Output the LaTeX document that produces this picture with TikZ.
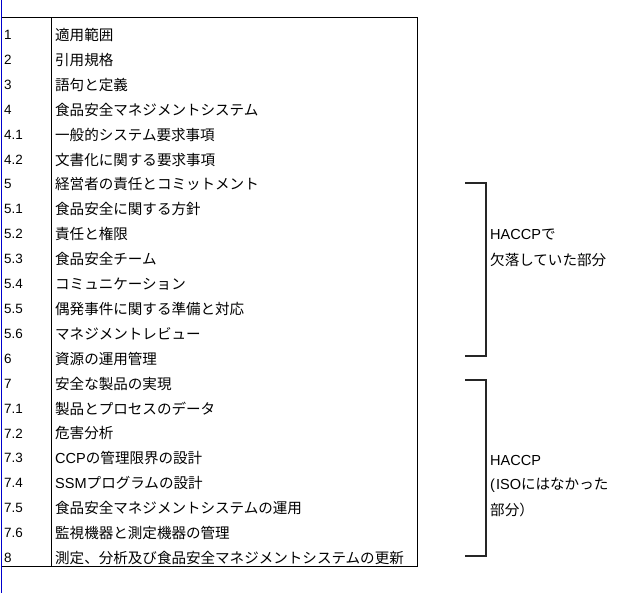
\documentclass[tikz,border=0pt]{standalone}
\usepackage{fontspec}
\setmainfont{Liberation Sans}
\newfontfamily\jp{Noto Sans CJK JP}
\definecolor{cursorblue}{RGB}{0,0,204}
\begin{document}
\begin{tikzpicture}[x=1bp,y=-1bp,
  numcell/.style={anchor=west,inner sep=0pt,font=\fontsize{13.5}{15}\selectfont},
  itemcell/.style={anchor=west,inner sep=0pt,font=\fontsize{14.6}{16}\selectfont\jp},
  note/.style={anchor=west,inner sep=0pt,font=\fontsize{14.6}{16}\selectfont\jp},
  bracket/.style={draw=black!85,line width=1.1bp}]

            \useasboundingbox (0,0) rectangle (628,593);

            \draw[line width=1bp] (1.5,18) rectangle (417,566);
            \draw[line width=1bp] (51,18) -- (51,566);
            \draw[cursorblue,line width=1.5bp] (1.5,0) -- (1.5,593);

            \foreach \num/\txt [count=\i from 0] in {1/適用範囲,2/引用規格,3/語句と定義,
              4/食品安全マネジメントシステム,4.1/一般的システム要求事項,4.2/文書化に関する要求事項,
              5/経営者の責任とコミットメント,5.1/食品安全に関する方針,5.2/責任と権限,
              5.3/食品安全チーム,5.4/コミュニケーション,5.5/偶発事件に関する準備と対応,
              5.6/マネジメントレビュー,6/資源の運用管理,7/安全な製品の実現,
              7.1/製品とプロセスのデータ,7.2/危害分析,7.3/{\rmfamily CCP}の管理限界の設計,
              7.4/{\rmfamily SSM}プログラムの設計,7.5/食品安全マネジメントシステムの運用,
              7.6/監視機器と測定機器の管理,8/測定、分析及び食品安全マネジメントシステムの更新}{
              \node[numcell] (n\i) at (4,35+24.9*\i) {\num};
              \node[itemcell] (t\i) at (55,35+24.9*\i) {\txt};
            }

            \coordinate (ua) at (465,183);
            \coordinate (ub) at (486,183);
            \coordinate (uc) at (486,356);
            \coordinate (ud) at (465,356);
            \draw[bracket] (ua) -- (ub) -- (uc) -- (ud);

            \coordinate (la) at (465,380);
            \coordinate (lb) at (486,380);
            \coordinate (lc) at (486,556);
            \coordinate (ld) at (465,556);
            \draw[bracket] (la) -- (lb) -- (lc) -- (ld);

            \node[note] (u1) at (490,235) {{\rmfamily HACCP}で};
            \node[note] (u2) at (490,260) {欠落していた部分};

            \node[note] (l1) at (490,460) {{\rmfamily HACCP}};
            \node[note] (l2) at (490,485) {{\rmfamily (\kern1bp ISO}にはなかった};
            \node[note] (l3) at (490,510) {部分）};

\end{tikzpicture}
\end{document}
